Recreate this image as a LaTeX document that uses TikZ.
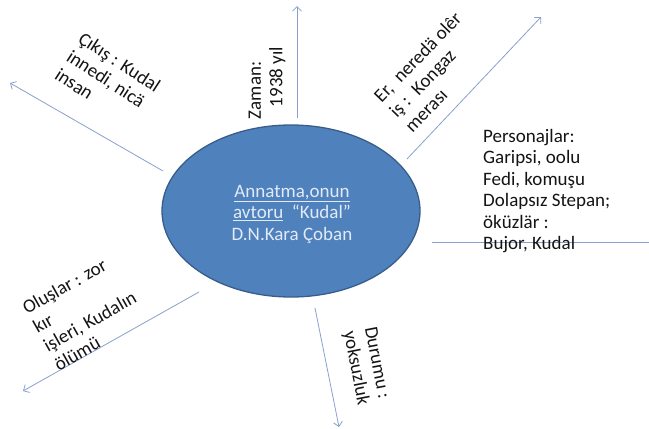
\documentclass[tikz,border=0pt]{standalone}
\usepackage{fontspec}
\setmainfont{Carlito}
\usetikzlibrary{arrows.meta,shapes.geometric}
\definecolor{hubfill}{RGB}{79,129,189}
\definecolor{hubedge}{RGB}{56,93,138}
\definecolor{hubtext}{RGB}{225,234,246}
\definecolor{spoke}{RGB}{136,160,204}
\definecolor{ink}{RGB}{20,20,20}
\begin{document}
\begin{tikzpicture}[x=1pt,y=-1pt,
  hub/.style={ellipse,draw=hubedge,line width=1.3pt,fill=hubfill,
    minimum width=258pt,minimum height=172pt,inner sep=0pt},
  spokeline/.style={draw=spoke,line width=0.8pt},
  spokearrow/.style={spokeline,-{Straight Barb[length=4.5pt,width=9pt,line width=0.8pt]}},
  label/.style={text=ink,align=left,inner sep=0pt,
    font=\fontsize{19}{21.5}\selectfont}]
\useasboundingbox (0,0) rectangle (649,429);

% central topic
\node[hub] (hub) at (291,211) {};
\node[text=hubtext,align=center,inner sep=0pt,
  font=\fontsize{19}{21.5}\selectfont] (hubtxt) at (292,214)
  {\underline{Annatma,onun}\\\underline{avtoru}~~“Kudal”\\D.N.Kara Çoban};

% spoke end points
\coordinate (upA) at (297,118);  \coordinate (upB) at (297,6);
\coordinate (ulA) at (163,171);  \coordinate (ulB) at (10,83);
\coordinate (urA) at (407,159);  \coordinate (urB) at (541,17);
\coordinate (rA)  at (432,242);  \coordinate (rB)  at (649,242);
\coordinate (llA) at (199,292);  \coordinate (llB) at (23,391);
\coordinate (dnA) at (315,308);  \coordinate (dnB) at (339,427);

\draw[spokearrow] (upA) -- (upB);
\draw[spokearrow] (ulA) -- (ulB);
\draw[spokearrow] (urA) -- (urB);
\draw[spokeline]  (rA) -- (rB);
\draw[spokearrow] (llA) -- (llB);
\draw[spokearrow] (dnA) -- (dnB);

% spoke labels
\node[label,rotate=90] (zaman) at (267,83)
  {Zaman:\\\hspace*{12pt}1938 yıl};
\node[label,rotate=-33] (cikis) at (108,80)
  {Çıkış : Kudal\\innedi, nicä\\insan};
\node[label,rotate=46] (yer) at (433,72)
  {Er,~ neredä olêr\\iş :~ Kongaz\\merası};
\node[label,anchor=west] (pers) at (483,191)
  {Personajlar:\\Garipsi, oolu\\Fedi, komuşu\\Dolapsız Stepan;\\öküzlär :\\Bujor, Kudal};
\node[label,rotate=29.5] (olus) at (84.5,312)
  {Oluşlar : zor\\kır\\işleri, Kudalın\\ölümü};
\node[label,rotate=-79] (durum) at (366,366)
  {Durumu :\\yoksuzluk};
\end{tikzpicture}
\end{document}
